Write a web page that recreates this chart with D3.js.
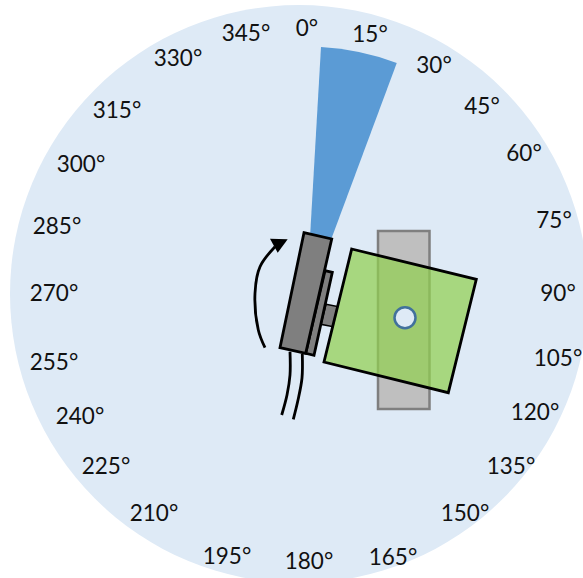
<!DOCTYPE html>
<html><head><meta charset="utf-8">
<style>html,body{margin:0;padding:0;background:#fff;overflow:hidden}svg{display:block}</style>
<script src="https://cdn.jsdelivr.net/npm/d3@7"></script>
</head><body><svg id="c" width="583" height="578"></svg>
<script>
// Data
const angleTicks = [0,15,30,45,60,75,90,105,120,135,150,165,180,195,210,225,240,255,270,285,300,315,330,345];
const beamStartDeg = 3.3;
const beamEndDeg = 20.4;

// Layout
const labelX = [307,370,434,482,524,554,558,558,535,511,465,393,309,227,154,106,80,54,54,57,81,117,178,246];
const labelY = [27,33,64,105,152,219,292,357,411,465,512,556,560,555,512,465,415,361,292,225,163,109,57,32];
const disc = {x:299,y:294,r:289};
const apex = {x:306,y:307,r:260.4};
const poly = {
  rail:[[378,231],[429.5,231],[429.5,409],[378,409]],
  stub:[[326,304.3],[337.7,306.5],[333,326.7],[321,324.3]],
  plate:[[325,270.7],[332.3,272.3],[314,355.3],[305.7,353.3]],
  body:[[304,232.7],[331.7,239],[305.7,353.3],[280,347.7]],
  square:[[351.7,249],[476.3,279.3],[448.3,392.7],[324,362]],
  head:[[270,238.7],[287.7,239.3],[277.7,252.7]]
};
const curves = {
  arrow:[[265,347.7],[258.3,330],[255,293.3],[260,266.7],[275,246.7]],
  cableA:[[290,351.7],[290,375],[287,395],[281.7,415]],
  cableB:[[302.3,354],[302,378],[298,400],[293.3,419.3]]
};

const svg = d3.select("#c");
const rad = d3.scaleLinear().domain([0,360]).range([0,2*Math.PI]);
const line = d3.line();
const smooth = d3.line().curve(d3.curveCatmullRom.alpha(0.5));

svg.append("circle").attr("cx",disc.x).attr("cy",disc.y).attr("r",disc.r).attr("fill","#deeaf6");

svg.append("path")
  .attr("transform",`translate(${apex.x},${apex.y})`)
  .attr("d",d3.arc()({innerRadius:0,outerRadius:apex.r,startAngle:rad(beamStartDeg),endAngle:rad(beamEndDeg)}))
  .attr("fill","#5b9bd5");

svg.append("path").attr("d",line(poly.rail)+"Z").attr("fill","#bfbfbf").attr("stroke","#7f7f7f").attr("stroke-width",2.5);
svg.append("path").attr("d",line(poly.stub)+"Z").attr("fill","#7f7f7f").attr("stroke","#000").attr("stroke-width",1.5);
svg.append("path").attr("d",line(poly.plate)+"Z").attr("fill","#7f7f7f").attr("stroke","#000").attr("stroke-width",2.8);
svg.append("path").attr("d",line(poly.body)+"Z").attr("fill","#7f7f7f").attr("stroke","#000").attr("stroke-width",2.8);
svg.append("path").attr("d",line(poly.square)+"Z").attr("fill","#92d050").attr("fill-opacity",0.72).attr("stroke","#000").attr("stroke-width",2.8);
svg.append("circle").attr("cx",405).attr("cy",317.7).attr("r",10.5).attr("fill","#deeaf6").attr("stroke","#41719c").attr("stroke-width",2.5);

for (const k of ["arrow","cableA","cableB"])
  svg.append("path").attr("d",smooth(curves[k])).attr("fill","none").attr("stroke","#000").attr("stroke-width",2.8);
svg.append("path").attr("d",line(poly.head)+"Z").attr("fill","#000");

svg.append("g").selectAll("text").data(angleTicks).join("text")
  .attr("x",(d,i)=>labelX[i]).attr("y",(d,i)=>labelY[i])
  .attr("text-anchor","middle").attr("dominant-baseline","central")
  .attr("font-family","Lato, 'Open Sans', sans-serif").attr("font-size",22.5).attr("fill","#111")
  .text(d=>d+"°");
</script></body></html>
